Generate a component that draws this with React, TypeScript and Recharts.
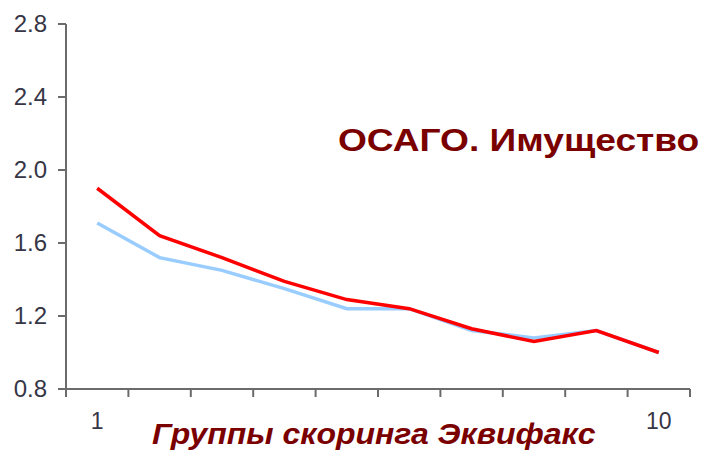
import { Line, LineChart, XAxis, YAxis } from "recharts";

const GROUPS = [1, 2, 3, 4, 5, 6, 7, 8, 9, 10];
const OSAGO_VALUES = [1.9, 1.64, 1.52, 1.39, 1.29, 1.24, 1.13, 1.06, 1.12, 1.0];
const PROPERTY_VALUES = [1.71, 1.52, 1.45, 1.35, 1.24, 1.24, 1.12, 1.08, 1.12, 1.0];
const Y_TICKS = [0.8, 1.2, 1.6, 2.0, 2.4, 2.8];
const X_LABELS = [1, 10];
const X_TICKS = [0.5, 1, 1.5, 2.5, 3.5, 4.5, 5.5, 6.5, 7.5, 8.5, 9.5, 10, 10.5];

const chartData = GROUPS.map((group, i) => ({
  group,
  osago: OSAGO_VALUES[i],
  property: PROPERTY_VALUES[i],
}));

const FONT = "'Liberation Sans', Arial, sans-serif";
const AXIS_COLOR = "#6b6b6b";
const TICK_TEXT = "#363646";
const DARK_RED = "#7a0000";

function GroupTick({ x, y, payload }: { x?: number; y?: number; payload?: { value: number } }) {
  const value = payload?.value ?? 0;
  if (X_LABELS.includes(value)) {
    return (
      <text
        x={x}
        y={(y ?? 0) + 40}
        textAnchor="middle"
        fill={TICK_TEXT}
        style={{ fontSize: 23, fontFamily: FONT }}
      >
        {value}
      </text>
    );
  }
  return <line x1={x} x2={x} y1={y} y2={(y ?? 0) + 8} stroke={AXIS_COLOR} strokeWidth={2} />;
}

function ValueTick({ x, y, payload }: { x?: number; y?: number; payload?: { value: number } }) {
  return (
    <text
      x={(x ?? 0) - 1}
      y={(y ?? 0) + 8}
      textAnchor="end"
      fill={TICK_TEXT}
      style={{ fontSize: 24, fontFamily: FONT }}
    >
      {(payload?.value ?? 0).toFixed(1)}
    </text>
  );
}

export default function App() {
  return (
    <div style={{ position: "fixed", left: 0, top: 0, width: 703, height: 452, background: "#fff" }}>
      <LineChart width={703} height={452} data={chartData} margin={{ top: 24, right: 13, bottom: 0, left: 0 }}>
        <XAxis
          dataKey="group"
          type="number"
          domain={[0.5, 10.5]}
          ticks={X_TICKS}
          interval={0}
          height={63}
          tickSize={0}
          tickMargin={0}
          tickLine={false}
          axisLine={{ stroke: AXIS_COLOR, strokeWidth: 2 }}
          tick={<GroupTick />}
        />
        <YAxis
          type="number"
          domain={[0.8, 2.8]}
          ticks={Y_TICKS}
          interval={0}
          width={66}
          tickSize={8}
          tickMargin={10}
          tickLine={{ stroke: AXIS_COLOR, strokeWidth: 2 }}
          axisLine={{ stroke: AXIS_COLOR, strokeWidth: 2 }}
          tick={<ValueTick />}
        />
        <Line
          dataKey="property"
          stroke="#99ccff"
          strokeWidth={3.5}
          dot={false}
          type="linear"
          isAnimationActive={false}
        />
        <Line
          dataKey="osago"
          stroke="#ff0000"
          strokeWidth={3.5}
          dot={false}
          type="linear"
          isAnimationActive={false}
        />
      </LineChart>
      <div
        style={{
          position: "absolute",
          left: 338,
          top: 122,
          fontFamily: FONT,
          fontWeight: "bold",
          fontSize: 32,
          color: DARK_RED,
          whiteSpace: "nowrap",
          transform: "scaleX(1.16)",
          transformOrigin: "left top",
        }}
      >
        ОСАГО. Имущество
      </div>
      <div
        style={{
          position: "absolute",
          left: 152,
          top: 417,
          fontFamily: FONT,
          fontWeight: "bold",
          fontStyle: "italic",
          fontSize: 30,
          lineHeight: "normal",
          color: DARK_RED,
          whiteSpace: "nowrap",
          transform: "scaleX(1.065)",
          transformOrigin: "left top",
        }}
      >
        Группы скоринга Эквифакс
      </div>
    </div>
  );
}
